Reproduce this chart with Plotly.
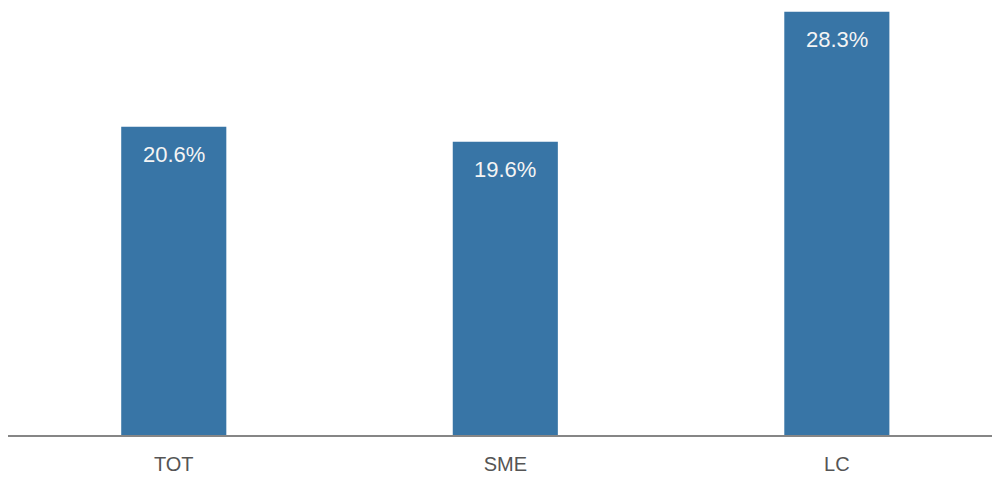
import plotly.graph_objects as go

categories = ["TOT", "SME", "LC"]
values = [20.6, 19.6, 28.3]
labels = [f"{v:.1f}%" for v in values]

bar_color = "#3875a6"

fig = go.Figure(
    go.Bar(
        x=categories,
        y=values,
        marker=dict(color=bar_color, line=dict(width=0)),
        width=0.317,
        hoverinfo="skip",
    )
)

# value labels placed just inside the top of each bar
for cat, val, lab in zip(categories, values, labels):
    fig.add_annotation(
        x=cat, y=val, text=lab, showarrow=False,
        yanchor="top", yshift=-13,
        font=dict(family="Liberation Sans, Arial, sans-serif", size=22, color="#f4f4f4"),
    )

fig.update_layout(
    width=992, height=478,
    margin=dict(l=8, r=0, t=0, b=43),
    paper_bgcolor="white", plot_bgcolor="white",
    showlegend=False,
    xaxis=dict(
        range=[-0.5, 2.468],
        showline=True, linecolor="#868686", linewidth=2,
        showgrid=False, zeroline=False, ticks="",
        tickfont=dict(family="Liberation Sans, Arial, sans-serif", size=20, color="#555555"),
        ticklabelstandoff=10,
    ),
    yaxis=dict(
        range=[0, 29.08], visible=False, showgrid=False, zeroline=False,
    ),
)

fig.write_html("out.html")
